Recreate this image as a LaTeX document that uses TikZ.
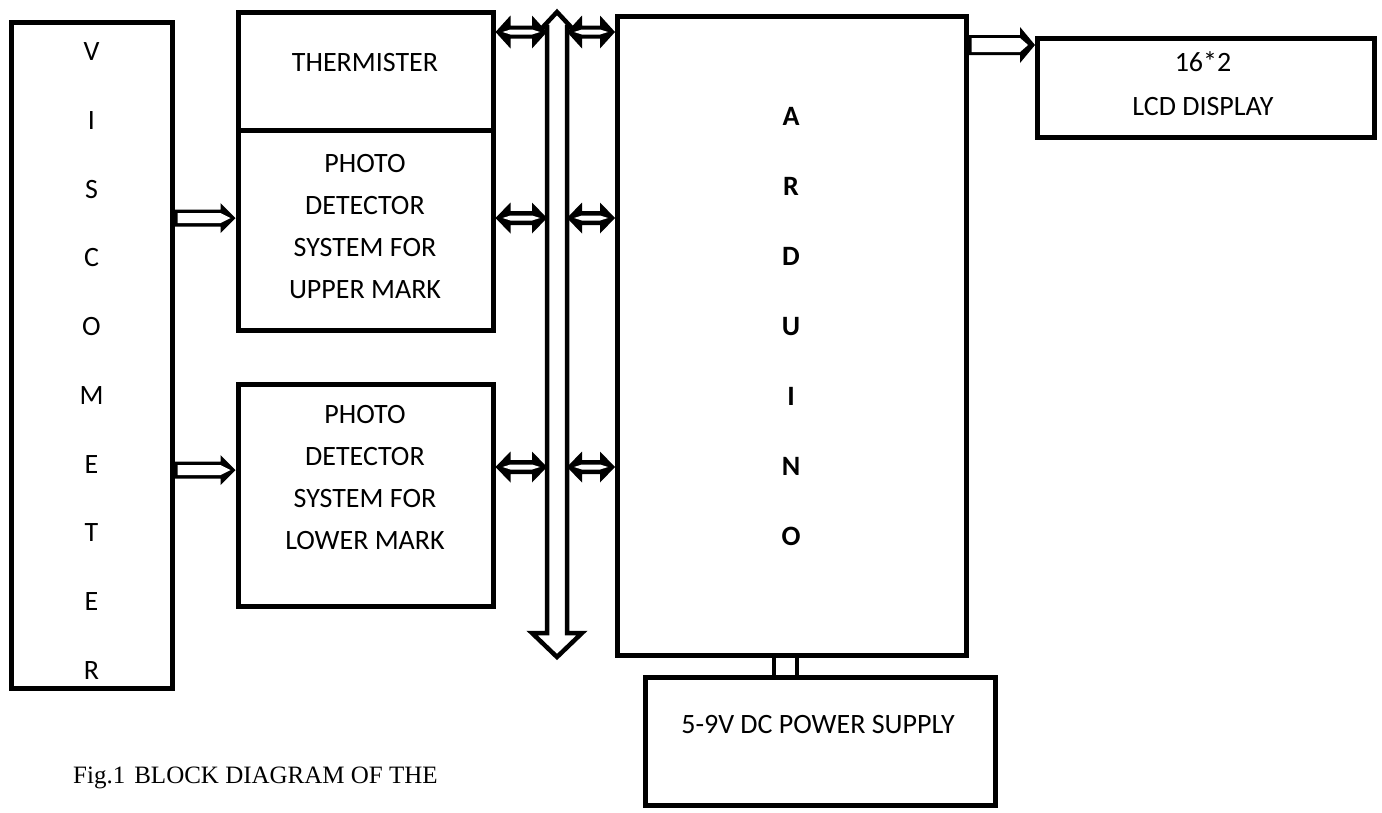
\documentclass[tikz,border=0pt]{standalone}
\usepackage{fontspec}
\setmainfont{Carlito}
\newfontfamily\capfont{Liberation Serif}
\usetikzlibrary{calc}
% #1 start, #2 end, #3 outer shaft half, #4 gap half, #5 head half, #6 head length, #7 notch
\newcommand\rarrowblk[7]{%
  \fill let \p1=#1, \p2=#2 in
    (\x1,\y1+#3pt) -- (\x2-#6pt,\y1+#3pt) -- (\x2-#6pt,\y1+#5pt) -- (\x2,\y1)
    -- (\x2-#6pt,\y1-#5pt) -- (\x2-#6pt,\y1-#3pt) -- (\x1,\y1-#3pt) -- cycle;
  \fill[white] let \p1=#1, \p2=#2 in
    (\x1+3pt,\y1+#4pt) -- (\x2-#6pt,\y1+#4pt) -- (\x2-#6pt+#7pt,\y1)
    -- (\x2-#6pt,\y1-#4pt) -- (\x1+3pt,\y1-#4pt) -- cycle;}
\newcommand\lrarrowblk[7]{%
  \fill let \p1=#1, \p2=#2 in
    (\x1,\y1) -- (\x1+#6pt,\y1+#5pt) -- (\x1+#6pt,\y1+#3pt) -- (\x2-#6pt,\y1+#3pt)
    -- (\x2-#6pt,\y1+#5pt) -- (\x2,\y1) -- (\x2-#6pt,\y1-#5pt) -- (\x2-#6pt,\y1-#3pt)
    -- (\x1+#6pt,\y1-#3pt) -- (\x1+#6pt,\y1-#5pt) -- cycle;
  \fill[white] let \p1=#1, \p2=#2 in
    (\x1+#6pt-#7pt,\y1) -- (\x1+#6pt,\y1+#4pt) -- (\x2-#6pt,\y1+#4pt) -- (\x2-#6pt+#7pt,\y1)
    -- (\x2-#6pt,\y1-#4pt) -- (\x1+#6pt,\y1-#4pt) -- cycle;}
\begin{document}
\begin{tikzpicture}[x=1pt,y=-1pt,
  box/.style={draw, line width=5pt, inner sep=0pt, rectangle},
  lbl/.style={font=\fontsize{28}{42}\selectfont, align=center, inner sep=0pt},
  column/.style={font=\fontsize{28}{68.7}\selectfont, align=center, inner sep=0pt}]
\useasboundingbox (0,0) rectangle (1382,812);
% boxes
\node[box, minimum width=161pt, minimum height=666pt] (visc) at (91.5,355) {};
\node[box, minimum width=255pt, minimum height=118pt] (therm) at (365.5,71.5) {};
\node[box, minimum width=255pt, minimum height=199.5pt] (up) at (365.5,230.25) {};
\node[box, minimum width=255pt, minimum height=222pt] (lo) at (365.5,495) {};
\node[box, minimum width=348.5pt, minimum height=639pt] (ard) at (791.75,336) {};
\node[box, minimum width=350pt, minimum height=127.5pt] (pwr) at (820,741.25) {};
\node[box, minimum width=336.5pt, minimum height=98.5pt] (lcd) at (1205.75,87.75) {};
% texts
\node[column] (visct) at (91.5,361) {V\\I\\S\\C\\O\\M\\E\\T\\E\\R};
\node[lbl] (thermt) at (365,63) {THERMISTER};
\node[lbl] (upt) at (365,227) {PHOTO\\DETECTOR\\SYSTEM FOR\\UPPER MARK};
\node[lbl] (lot) at (365,477.5) {PHOTO\\DETECTOR\\SYSTEM FOR\\LOWER MARK};
\node[column, font=\fontsize{28}{70}\selectfont\bfseries] (ardt) at (791,327) {A\\R\\D\\U\\I\\N\\O};
\node[lbl] (pwrt) at (818,725) {5-9V DC POWER SUPPLY};
\node[lbl, font=\fontsize{28}{44}\selectfont] (lcdt) at (1203,84) {16*2\\LCD DISPLAY};
\node[font=\capfont\fontsize{25}{30}\selectfont, anchor=west, inner sep=0pt] (cap) at (73,778) {Fig.1\hspace{9pt}BLOCK DIAGRAM OF THE};
% helper coordinates
\coordinate (busL) at (547,0);
\coordinate (busR) at (567,0);
\coordinate (yT) at (0,32);
\coordinate (yU) at (0,218);
\coordinate (yLi) at (0,470);
\coordinate (yLo) at (0,467);
\coordinate (yD) at (0,45);
\coordinate (p1) at (774,0);
\coordinate (p2) at (797,0);
% bus
\draw[line width=4.5pt, line join=miter] (547,633) -- (547,27) -- (543,27) -- (557,12) -- (571,27) -- (567,27)
  -- (567,633) -- (582,633) -- (557,657) -- (532,633) -- cycle;
% input arrows
\rarrowblk{(visc.east |- yU)}{(up.west |- yU)}{8.5}{5}{15}{15}{10}
\rarrowblk{(visc.east |- yLi)}{(lo.west |- yLi)}{8.5}{5}{15}{15}{10}
% bus arrows
\lrarrowblk{(therm.east |- yT)}{(busL |- yT)}{6.5}{2.5}{16.5}{15}{8}
\lrarrowblk{(busR |- yT)}{(ard.west |- yT)}{6.5}{2.5}{16.5}{15}{8}
\lrarrowblk{(up.east |- yU)}{(busL |- yU)}{7}{2.5}{15.5}{15}{8}
\lrarrowblk{(busR |- yU)}{(ard.west |- yU)}{7}{2.5}{15.5}{15}{8}
\lrarrowblk{(lo.east |- yLo)}{(busL |- yLo)}{7}{2.5}{15.5}{15}{8}
\lrarrowblk{(busR |- yLo)}{(ard.west |- yLo)}{7}{2.5}{15.5}{15}{8}
% LCD arrow
\rarrowblk{(ard.east |- yD)}{(lcd.west |- yD)}{10}{7}{18}{15}{8}
% power connector
\draw[line width=4pt] (ard.south -| p1) -- (pwr.north -| p1);
\draw[line width=4pt] (ard.south -| p2) -- (pwr.north -| p2);
\end{tikzpicture}
\end{document}
